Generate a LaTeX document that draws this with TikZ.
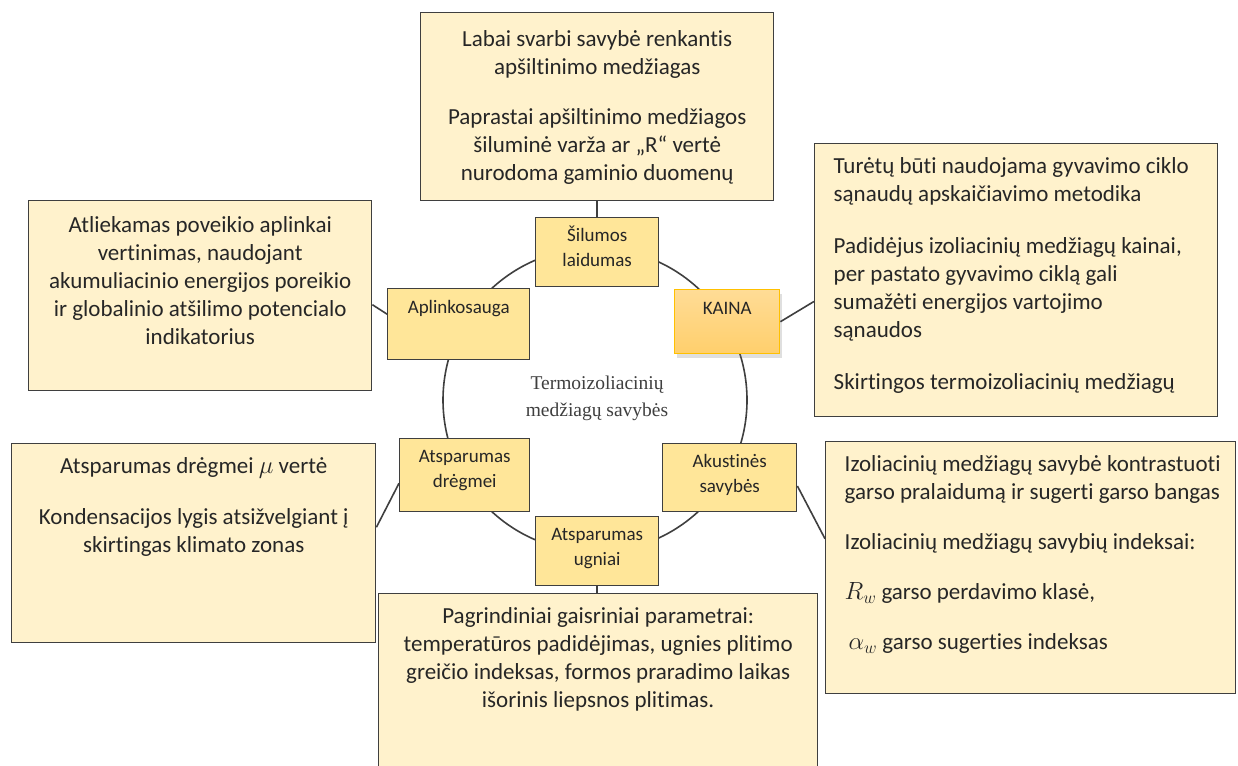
\documentclass[tikz,border=0pt]{standalone}
\usepackage{fontspec}
\setmainfont{Carlito}[Ligatures=NoCommon]
\newfontfamily\ringfont{Liberation Serif}
\usetikzlibrary{shadows}

\definecolor{infofill}{HTML}{FFF2CC}
\definecolor{keyfill}{HTML}{FFE699}
\definecolor{edgegray}{HTML}{3F3F3F}
\definecolor{textgray}{HTML}{262626}
\definecolor{kainatop}{HTML}{FFDC96}
\definecolor{kainabottom}{HTML}{FFCF6C}
\definecolor{kainaedge}{HTML}{FFC000}

\newcommand{\boxtext}[4][10pt]{\parbox[c][#3][t]{#2}{\vspace*{#1}#4}}

\begin{document}
\begin{tikzpicture}[
x=1pt, y=-1pt,
infobox/.style={draw=edgegray, fill=infofill, line width=1.4pt, inner sep=0pt, anchor=north west, text=textgray, font=\fontsize{23pt}{28pt}\selectfont},
keybox/.style={draw=edgegray, fill=keyfill, line width=1.4pt, inner sep=0pt, anchor=north west, text=textgray, font=\fontsize{19pt}{25pt}\selectfont},
link/.style={draw=edgegray, line width=1.6pt}
]

\clip (0,0) rectangle (1238,765);
\fill[white] (0,0) rectangle (1238,765);

\draw[link] (595,400) circle[radius=152pt];
\node[text=edgegray, font=\ringfont\fontsize{19.5pt}{27pt}\selectfont, align=center] (title) at (597,398) {Termoizoliacinių\\medžiagų savybės};

\node[keybox] (silumos) at (535,217) {\boxtext[6pt]{123pt}{69pt}{\centering\strut Šilumos\\laidumas}};
\node[keybox, draw=kainaedge, top color=kainatop, bottom color=kainabottom, drop shadow={opacity=0.25, shadow xshift=2pt, shadow yshift=-4pt}] (kaina) at (674,289) {\boxtext[7pt]{105pt}{64pt}{\centering\strut KAINA}};
\node[keybox] (aplinka) at (387,288) {\boxtext[7pt]{142pt}{71pt}{\centering\strut Aplinkosauga}};
\node[keybox] (dregme) at (399,438) {\boxtext[6pt]{130pt}{73pt}{\centering\strut Atsparumas\\drėgmei}};
\node[keybox] (akustika) at (662,443) {\boxtext[6pt]{134pt}{68pt}{\centering\strut Akustinės\\savybės}};
\node[keybox] (ugnis) at (535,516) {\boxtext[6pt]{123pt}{69pt}{\centering\strut Atsparumas\\ugniai}};

\node[infobox] (silumosinfo) at (420,12) {\boxtext[14pt]{353pt}{188pt}{\centering\strut Labai svarbi savybė renkantis\\apšiltinimo medžiagas\\[22pt]
    Paprastai apšiltinimo medžiagos\\šiluminė varža ar „R“ vertė\\nurodoma gaminio duomenų}};
\node[infobox] (kainainfo) at (814,143) {\boxtext{403pt}{273pt}{\raggedright\leftskip=19pt\strut Turėtų būti naudojama gyvavimo ciklo\\sąnaudų apskaičiavimo metodika\\[24pt]
    Padidėjus izoliacinių medžiagų kainai,\\per pastato gyvavimo ciklą gali\\sumažėti energijos vartojimo\\sąnaudos\\[24pt]
    Skirtingos termoizoliacinių medžiagų}};
\node[infobox] (aplinkainfo) at (28,200) {\boxtext[12pt]{343pt}{190pt}{\centering\strut Atliekamas poveikio aplinkai\\vertinimas, naudojant\\akumuliacinio energijos poreikio\\ir globalinio atšilimo potencialo\\indikatorius}};
\node[infobox] (dregmeinfo) at (11,443) {\boxtext{364pt}{199pt}{\centering\strut Atsparumas drėgmei $\mu$ vertė\\[23pt]
    Kondensacijos lygis atsižvelgiant į\\skirtingas klimato zonas}};
\node[infobox] (ugnisinfo) at (378,593) {\boxtext{439pt}{220pt}{\centering\strut Pagrindiniai gaisriniai parametrai:\\temperatūros padidėjimas, ugnies plitimo\\greičio indeksas, formos praradimo laikas\\išorinis liepsnos plitimas.}};
\node[infobox] (akustikainfo) at (825,441) {\boxtext{410pt}{252pt}{\raggedright\leftskip=19pt\strut Izoliacinių medžiagų savybė kontrastuoti\\garso pralaidumą ir sugerti garso bangas\\[22pt]
    Izoliacinių medžiagų savybių indeksai:\\[22pt]
    $R_w$ garso perdavimo klasė,\\[22pt]
    \hspace*{4pt}$\alpha_w$ garso sugerties indeksas}};

\draw[link] (silumosinfo.south) -- (silumos.north);
\draw[link] (kaina.east) -- (kainainfo.186);
\draw[link] (aplinka.172) -- (aplinkainfo.357);
\draw[link] (dregme.187) -- (dregmeinfo.5);
\draw[link] (akustika.353) -- (akustikainfo.172);
\draw[link] (ugnis.south) -- (ugnis.south |- ugnisinfo.north);

\end{tikzpicture}
\end{document}
